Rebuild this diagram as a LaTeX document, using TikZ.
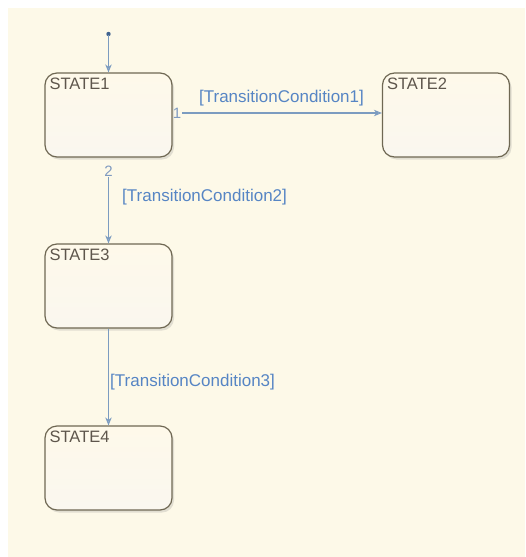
\documentclass[tikz,border=0pt]{standalone}
\usepackage{fontspec}
\setmainfont{Liberation Sans}
\usetikzlibrary{arrows.meta,shadows,calc}

\definecolor{canvas}{HTML}{FDF9E8}
\definecolor{boxedge}{HTML}{6F6853}
\definecolor{boxtop}{HTML}{FEF9EA}
\definecolor{boxbot}{HTML}{FAF7EF}
\definecolor{statetext}{HTML}{5E564C}
\definecolor{transline}{HTML}{7C9CC0}
\definecolor{translabel}{HTML}{5685C4}
\definecolor{transnum}{HTML}{7F9AC0}
\definecolor{dotcol}{HTML}{3F628E}

\tikzset{
  statebox/.style={draw=boxedge, line width=1.2pt, rounded corners=12pt,
    minimum width=127pt, minimum height=84pt, inner sep=0pt,
    top color=boxtop, bottom color=boxbot,
    drop shadow={opacity=0.22, shadow xshift=2pt, shadow yshift=-2.5pt}},
  statename/.style={anchor=north west, inner sep=0pt, text=statetext,
    font=\fontsize{16.5}{18}\selectfont},
  trans/.style={draw=transline, line width=1.1pt,
    -{Stealth[open, length=8pt, width=6.5pt, inset=2.5pt]}},
  condlabel/.style={inner sep=0pt, text=translabel,
    font=\fontsize{17}{19}\selectfont},
  execnum/.style={inner sep=1pt, text=transnum,
    font=\fontsize{15}{17}\selectfont},
}

\begin{document}
\begin{tikzpicture}[x=1pt, y=-1pt]
  \useasboundingbox (0,0) rectangle (525,557);
  \fill[white] (0,0) rectangle (525,557);
  \fill[canvas] (8,8) rectangle (525,557);

  % states
  \node[statebox] (s1) at (108.5,115) {};
  \node[statebox] (s2) at (446,115) {};
  \node[statebox] (s3) at (108.5,286) {};
  \node[statebox] (s4) at (108.5,468) {};

  \node[statename] (n1) at ($(s1.north west)+(5,5)$) {STATE1};
  \node[statename] (n2) at ($(s2.north west)+(5,5)$) {STATE2};
  \node[statename] (n3) at ($(s3.north west)+(5,5)$) {STATE3};
  \node[statename] (n4) at ($(s4.north west)+(5,5)$) {STATE4};

  % default transition
  \fill[dotcol] (108.5,34) circle (2.2pt);
  \coordinate (def) at (108.5,35);
  \draw[trans] (def) -- (s1.north);

  % execution order numbers
  \node[execnum] (o1) at (177,113) {1};
  \node[execnum] (o2) at (108.5,171) {2};

  % transitions
  \draw[trans] (o1.east) -- (o1.east -| s2.west);
  \draw[trans] (o2.south) -- (s3.north);
  \draw[trans] (s3.south) -- (s4.north);

  % transition conditions
  \node[condlabel] (c1) at (281.5,98) {[TransitionCondition1]};
  \node[condlabel, anchor=west] (c2) at (122,197) {[TransitionCondition2]};
  \node[condlabel, anchor=west] (c3) at (110,382) {[TransitionCondition3]};
\end{tikzpicture}
\end{document}
